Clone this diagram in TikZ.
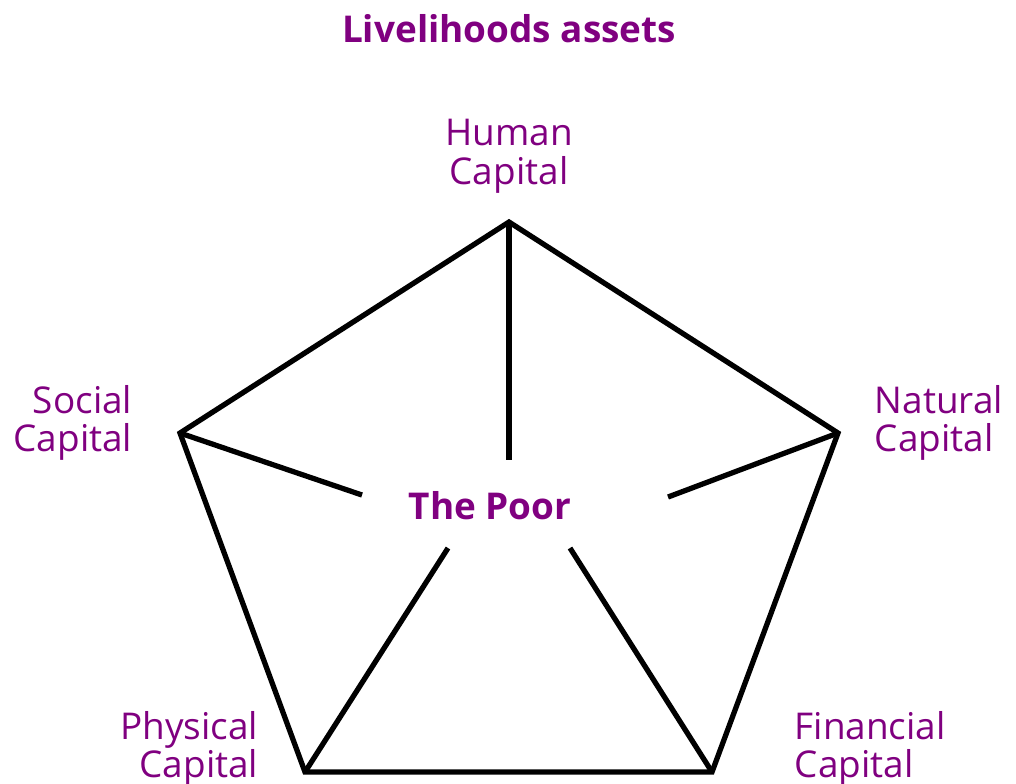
\documentclass[tikz,border=0pt]{standalone}
\usepackage{fontspec}
\setmainfont{Open Sans}
\definecolor{asset}{RGB}{128,0,128}
\tikzset{
  asset text/.style={text=asset, font=\fontsize{10.5}{11}\selectfont, inner sep=0pt},
  asset title/.style={text=asset, font=\fontsize{10.5}{11}\selectfont\bfseries, inner sep=0pt},
  edge line/.style={line width=1.5pt, line join=miter}
}
\begin{document}
\begin{tikzpicture}[x=0.1mm, y=-0.1mm]
  \useasboundingbox (0,0) rectangle (1016,783);
  % pentagon corners
  \coordinate (human) at (509,222);
  \coordinate (social) at (180,433);
  \coordinate (natural) at (838,433);
  \coordinate (physical) at (305,772);
  \coordinate (financial) at (712,772);
  % inner ends of the spokes
  \coordinate (human-end) at (509,460);
  \coordinate (social-end) at (362,495);
  \coordinate (natural-end) at (668,497);
  \coordinate (physical-end) at (448,548);
  \coordinate (financial-end) at (570,548);
  \node [asset title] (title) at (509,29) {Livelihoods assets};
  \node [asset title] (poor) at (490,506) {The Poor};
  \node [asset text, align=center] (human-label) at (509,156) {Human\\Capital};
  \node [asset text, align=right, anchor=east] (social-label) at (133,423) {Social\\Capital};
  \node [asset text, align=left, anchor=west] (natural-label) at (874,423) {Natural\\Capital};
  \node [asset text, align=right, anchor=east] (physical-label) at (259,749) {Physical\\Capital};
  \node [asset text, align=left, anchor=west] (financial-label) at (794,749) {Financial\\Capital};
  \draw [edge line] (human) -- (natural) -- (financial) -- (physical) -- (social) -- cycle;
  \draw [edge line] (human) to (human-end);
  \draw [edge line] (social) to (social-end);
  \draw [edge line] (natural) to (natural-end);
  \draw [edge line] (physical) to (physical-end);
  \draw [edge line] (financial) to (financial-end);
\end{tikzpicture}
\end{document}
